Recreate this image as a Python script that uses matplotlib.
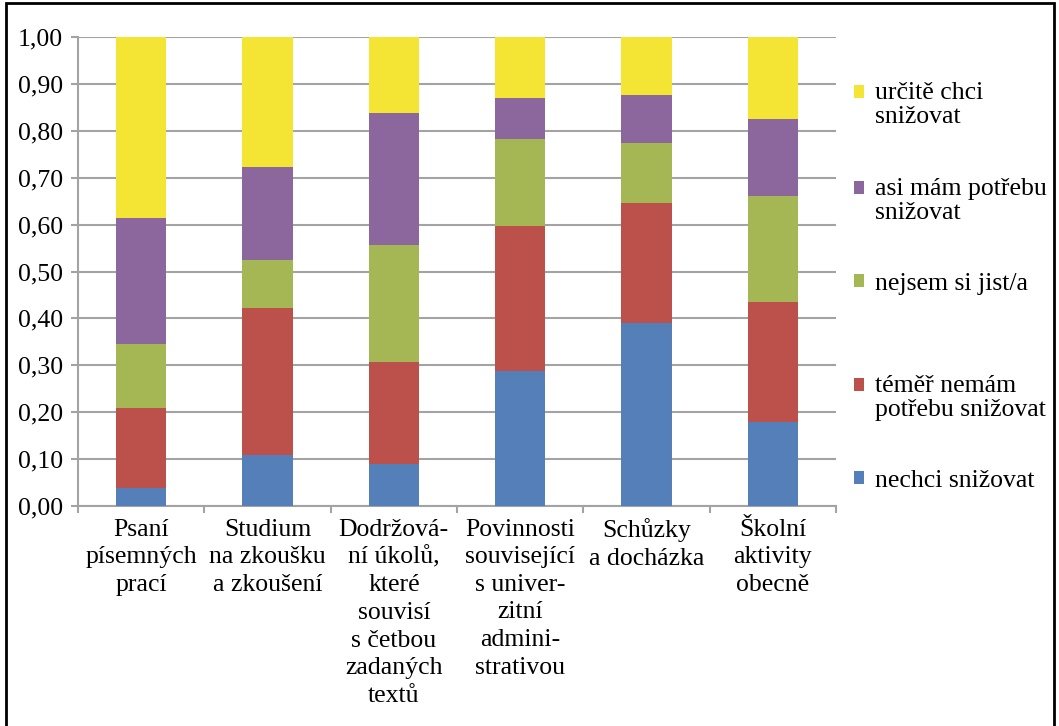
import matplotlib
matplotlib.use("Agg")
import matplotlib.pyplot as plt
import numpy as np
from matplotlib.patches import Rectangle
from matplotlib.legend_handler import HandlerPatch

plt.rcParams['font.family'] = ['Liberation Serif', 'DejaVu Serif']

categories = [
    "Psaní\npísemných\nprací",
    "Studium\nna zkoušku\na zkoušení",
    "Dodržová-\nní úkolů,\nkteré\nsouvisí\ns četbou\nzadaných\ntextů",
    "Povinnosti\nsouvisející\ns univer-\nzitní\nadmini-\nstrativou",
    "Schůzky\na docházka",
    "Školní\naktivity\nobecně",
]
series_names = [
    "nechci snižovat",
    "téměř nemám\npotřebu snižovat",
    "nejsem si jist/a",
    "asi mám potřebu\nsnižovat",
    "určitě chci\nsnižovat",
]
nechci = [0.038, 0.108, 0.090, 0.288, 0.390, 0.179]
temer_nemam = [0.172, 0.314, 0.216, 0.308, 0.257, 0.257]
nejsem = [0.135, 0.103, 0.251, 0.186, 0.128, 0.224]
asi_mam = [0.269, 0.198, 0.282, 0.089, 0.101, 0.165]
urcite = [0.386, 0.277, 0.161, 0.129, 0.124, 0.175]
yticks = [0.0, 0.1, 0.2, 0.3, 0.4, 0.5, 0.6, 0.7, 0.8, 0.9, 1.0]

colors = ["#547FB9", "#BC504A", "#A5B754", "#8B679E", "#F4E535"]
values = [nechci, temer_nemam, nejsem, asi_mam, urcite]

FS = 18.5
W, H = 1059, 726
fig = plt.figure(figsize=(W / 100, H / 100), dpi=100)
ax = fig.add_axes([78 / W, 1 - 506 / H, (836 - 78) / W, (506 - 37) / H])

x = np.arange(len(categories))
bottom = np.zeros(len(categories))
containers = []
for vals, col, name in zip(values, colors, series_names):
    bc = ax.bar(x, vals, 0.4, bottom=bottom, color=col, linewidth=0, label=name, zorder=3)
    containers.append(bc)
    bottom = bottom + np.array(vals)

ax.set_xlim(-0.5, len(categories) - 0.5)
ax.set_ylim(0, 1)
ax.set_yticks(yticks)
ax.set_yticklabels([f"{v:.2f}".replace(".", ",") for v in yticks])
ax.yaxis.grid(True, color="#A3A3A3", linewidth=1.5, zorder=0)
ax.set_axisbelow(True)

ax.set_xticks(x)
ax.set_xticklabels(categories, fontsize=FS, linespacing=1.33)
ax.set_xticks(np.arange(len(categories) + 1) - 0.5, minor=True)
ax.tick_params(axis="x", which="major", length=0, pad=9)
ax.tick_params(axis="x", which="minor", length=5, color="#A3A3A3", width=1.5, direction="out")
ax.tick_params(axis="y", length=5, color="#A3A3A3", width=1.5, labelsize=FS, pad=6)

for s in ["top", "right"]:
    ax.spines[s].set_visible(False)
for s in ["left", "bottom"]:
    ax.spines[s].set_color("#A3A3A3")
    ax.spines[s].set_linewidth(1.5)

# legend entries, one per series, top to bottom in reversed order
legend_centers = [481, 398, 284, 201, 105]
LS = 1.15


def make_handler(nlines):
    def pf(legend, orig_handle, xdescent, ydescent, width, height, fontsize):
        dy = 0.5 * fontsize * (nlines - 1)
        return Rectangle((-xdescent, -ydescent + dy), width, height)
    return HandlerPatch(patch_func=pf)


for bc, name, yc in zip(containers, series_names, legend_centers):
    h = bc.patches[0]
    nl = name.count("\n") + 1
    leg = fig.legend(handles=[h], labels=[name], loc="center left",
                     bbox_to_anchor=(854 / W, 1 - yc / H), frameon=False,
                     fontsize=FS, handlelength=0.4, handleheight=0.4,
                     handletextpad=0.42, borderpad=0, borderaxespad=0,
                     handler_map={h: make_handler(nl)})
    for t in leg.get_texts():
        t.set_linespacing(LS)

# outer frame
fig.add_artist(Rectangle((6 / W, -0.05), (1054 - 6) / W, 1.05 - 3 / H,
                         transform=fig.transFigure, fill=False,
                         edgecolor="black", linewidth=2, clip_on=False))

fig.savefig("out.png", dpi=100)
